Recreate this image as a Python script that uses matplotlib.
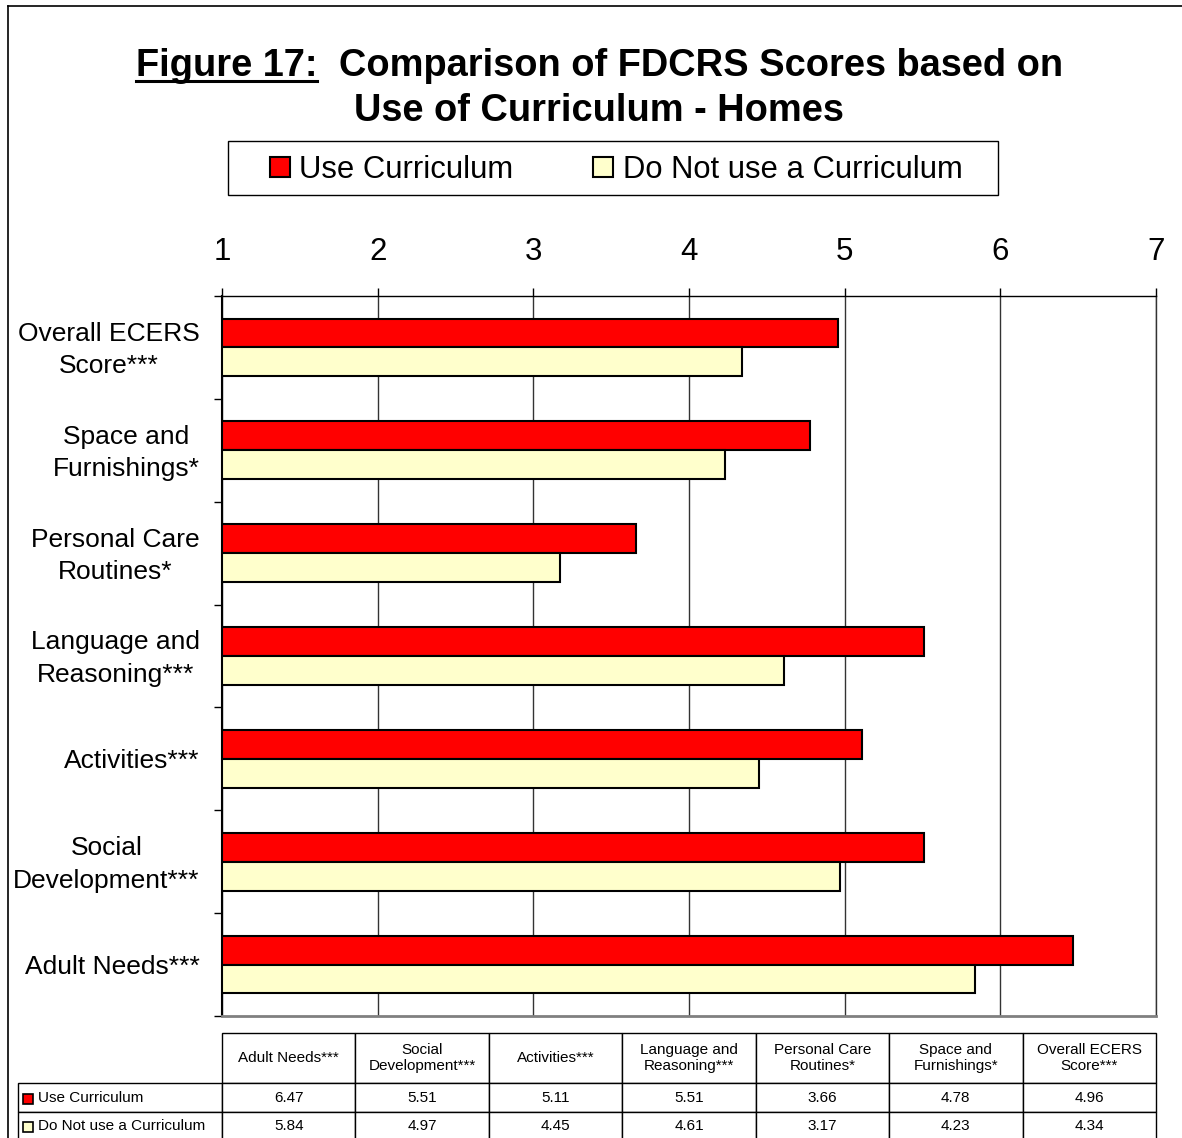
import numpy as np
import matplotlib
matplotlib.use("Agg")
import matplotlib.pyplot as plt
from matplotlib.table import Table
from matplotlib.patches import Patch, Rectangle
from matplotlib.lines import Line2D
from matplotlib.transforms import ScaledTranslation

plt.rcParams['font.family'] = ['Liberation Sans', 'DejaVu Sans']

# data (bottom -> top of the bar chart, same order as the table columns)
categories = ['Adult Needs***', 'Social\nDevelopment***', 'Activities***',
              'Language and\nReasoning***', 'Personal Care\nRoutines*',
              'Space and\nFurnishings*', 'Overall ECERS\nScore***']
use_curr = [6.47, 5.51, 5.11, 5.51, 3.66, 4.78, 4.96]
no_curr = [5.84, 4.97, 4.45, 4.61, 3.17, 4.23, 4.34]
series_names = ['Use Curriculum', 'Do Not use a Curriculum']
colors = ['#FF0000', '#FFFFCC']
x_ticks = [1, 2, 3, 4, 5, 6, 7]

W, H = 1182, 1138
fig = plt.figure(figsize=(W / 100, H / 100), dpi=100)
ax = fig.add_axes([222 / W, 1 - 1016 / H, 934 / W, 720 / H])

y = np.arange(len(categories))
bh = 0.28
ax.barh(y + 0.14, np.array(use_curr) - 1, left=1, height=bh, color=colors[0],
        edgecolor='black', linewidth=1.5, zorder=3)
ax.barh(y - 0.14, np.array(no_curr) - 1, left=1, height=bh, color=colors[1],
        edgecolor='black', linewidth=1.5, zorder=3)

ax.set_xlim(1, 7)
ax.set_ylim(-0.5, len(categories) - 0.5)
ax.xaxis.tick_top()
ax.set_xticks(x_ticks)
ax.tick_params(axis='x', labelsize=22.5, length=6, width=1, pad=15, direction='out')
ax.grid(axis='x', color='#333333', linewidth=1, zorder=0)
ax.set_axisbelow(True)

ax.set_yticks(y)
ax.set_yticklabels(categories, fontsize=19, multialignment='center', linespacing=1.45)
ax.tick_params(axis='y', which='major', length=0, pad=16)
ax.set_yticks(np.arange(-0.5, len(categories), 1), minor=True)
ax.tick_params(axis='y', which='minor', length=6, width=1, direction='out')
# two-line labels sit a little high in the original
for lbl in ax.get_yticklabels():
    if '\n' in lbl.get_text():
        lbl.set_transform(lbl.get_transform() + ScaledTranslation(0, 4 / 100, fig.dpi_scale_trans))

ax.spines['right'].set_color('#333333')
ax.spines['right'].set_linewidth(1)
ax.spines['bottom'].set_color('#808080')
ax.spines['bottom'].set_linewidth(2)
ax.spines['left'].set_linewidth(1.5)
ax.spines['top'].set_linewidth(1)

# data table under the chart (bbox covers the value columns only)
tbl = Table(ax, bbox=[0, (1016 - 1140) / 720, 1, (1140 - 1033) / 720])
col_w = 133.4
for j, c in enumerate(categories):
    tbl.add_cell(0, j, width=col_w, height=50, text=c, loc='center', facecolor='white')
for i, (name, vals) in enumerate(zip(series_names, [use_curr, no_curr])):
    tbl.add_cell(i + 1, -1, width=204, height=28, text=name, loc='left', facecolor='white')
    for j, v in enumerate(vals):
        tbl.add_cell(i + 1, j, width=col_w, height=28, text=f'{v:.2f}',
                     loc='center', facecolor='white')
tbl.auto_set_font_size(False)
tbl.set_fontsize(11)
for cell in tbl.get_celld().values():
    cell.set_linewidth(1)
    cell.set_edgecolor('black')
ax.add_table(tbl)

# legend keys inside the row labels
for i, c in enumerate(colors):
    ax.plot([(28 - 222) / 934], [(1016 - (1099 + 28 * i)) / 720], marker='s',
            markersize=6.5, markerfacecolor=c, markeredgecolor='black',
            markeredgewidth=1.2, transform=ax.transAxes, clip_on=False, zorder=5)

# legend
handles = [Patch(facecolor=c, edgecolor='black', linewidth=1.5) for c in colors]
fig.legend(handles, series_names, loc='center', bbox_to_anchor=(616 / W, 1 - 170 / H),
           ncol=2, frameon=False, fontsize=22.3, handlelength=0.65, handleheight=0.65,
           handletextpad=0.3, columnspacing=2.58)
fig.add_artist(Rectangle((228 / W, 1 - 195 / H), 770 / W, 54 / H, transform=fig.transFigure,
                         fill=False, edgecolor='black', linewidth=1))

# outer border (top + left only visible)
fig.add_artist(Line2D([8 / W, 8 / W], [0, 1 - 6 / H], color='black', lw=1.2))
fig.add_artist(Line2D([8 / W, 1], [1 - 6 / H, 1 - 6 / H], color='black', lw=1.2))

# title
t1 = fig.text(317 / W, 1 - 76 / H, 'Figure 17:', ha='right', va='baseline',
              fontsize=27.4, fontweight='bold')
fig.text(339 / W, 1 - 76 / H, 'Comparison of FDCRS Scores based on', ha='left',
         va='baseline', fontsize=27.4, fontweight='bold')
fig.text(599 / W, 1 - 121 / H, 'Use of Curriculum - Homes', ha='center',
         va='baseline', fontsize=27.4, fontweight='bold')

fig.canvas.draw()
bb = t1.get_window_extent().transformed(fig.transFigure.inverted())
fig.add_artist(Line2D([bb.x0, bb.x1], [1 - 80.5 / H, 1 - 80.5 / H], color='black', lw=2.2))

fig.savefig('out.png', dpi=100)
